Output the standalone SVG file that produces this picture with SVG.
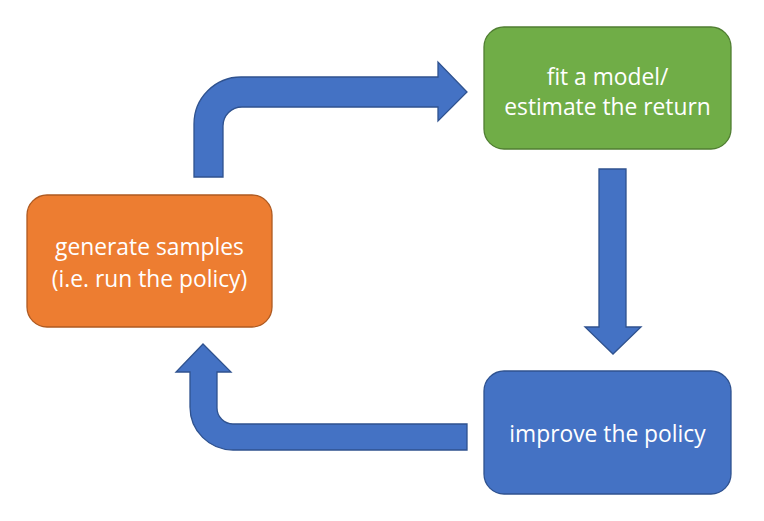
<svg xmlns="http://www.w3.org/2000/svg" width="764" height="521" viewBox="0 0 764 521">
<style>
.lbl{font-family:"Open Sans","Liberation Sans",sans-serif;font-size:22.8px;fill:#ffffff;text-anchor:middle}
.arr{fill:#4472C4;stroke:#2F528F;stroke-width:1.3}
</style>
<rect width="764" height="521" fill="#ffffff"/>
<g id="connectors">
<path class="arr" d="M194,177 L194,124 A47,47 0 0 1 241,77 L438,77 L438,62 L467,92 L438,121 L438,107 L242,107 A19,19 0 0 0 223,126 L223,177 Z"/>
<path class="arr" d="M599,169 L626,169 L626,327 L641,327 L613,354 L585,327 L599,327 Z"/>
<path class="arr" d="M467,424 L233,424 A16,16 0 0 1 217,408 L217,372 L231,372 L203,344 L176,372 L190,372 L190,407 A43,43 0 0 0 233,450 L467,450 Z"/>
</g>
<g id="generate">
<rect x="27" y="195" width="245" height="132" rx="20" fill="#ED7D31" stroke="#AE5A21" stroke-width="1.3"/>
<text class="lbl" x="149.5" y="255">generate samples</text>
<text class="lbl" x="149.5" y="287">(i.e. run the policy)</text>
</g>
<g id="fit">
<rect x="484" y="27" width="247" height="122" rx="20" fill="#70AD47" stroke="#507E32" stroke-width="1.3"/>
<text class="lbl" x="607.5" y="85">fit a model/</text>
<text class="lbl" x="607.5" y="115">estimate the return</text>
</g>
<g id="improve">
<rect x="484" y="371" width="247" height="123" rx="20" fill="#4472C4" stroke="#2F528F" stroke-width="1.3"/>
<text class="lbl" x="607.5" y="442">improve the policy</text>
</g>
</svg>
